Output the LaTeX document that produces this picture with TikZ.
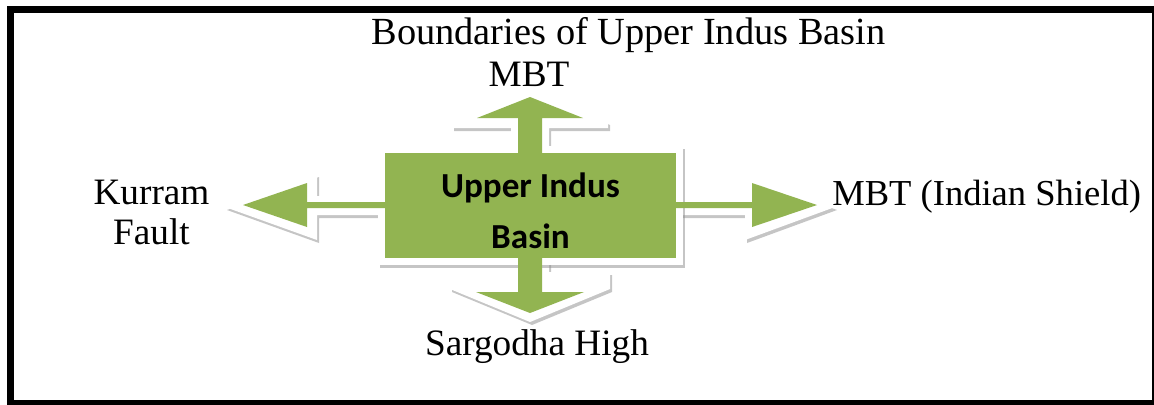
\documentclass[tikz,border=0pt]{standalone}
\usepackage{fontspec}
\setmainfont{Liberation Serif}
\newfontfamily\calibrifont{Carlito}
\usetikzlibrary{shadows}
\definecolor{indusgreen}{HTML}{92B451}

\begin{document}
\begin{tikzpicture}[x=0.025cm, y=-0.025cm,
    softshadow/.style={drop shadow={shadow xshift=0.05cm, shadow yshift=-0.075cm, fill=black!45, opacity=0.5}},
    plate/.style={fill=white, softshadow},
    blockarrow/.style={fill=indusgreen},
    lbl/.style={font=\fontsize{26.5}{28.5}\selectfont, inner sep=0pt}]
\useasboundingbox (0,0) rectangle (1154,404);
\clip (0,0) rectangle (1154,404);
\draw[line width=0.175cm] (10.5,9) rectangle (1155,403.5);

% white plates under the four arrows
\fill[plate] (511,153) -- (511,128) -- (452,128) -- (452,122) -- (530,89) -- (608,122) -- (608,128) -- (549,128) -- (549,153) -- cycle;
\fill[plate] (511,258) -- (511,272) -- (450,272) -- (450,289) -- (530,322) -- (610,289) -- (610,272) -- (549,272) -- (549,258) -- cycle;
\fill[plate] (385,196) -- (317,196) -- (317,174) -- (225,207) -- (317,240) -- (317,215) -- (385,215) -- cycle;
\fill[plate] (676,196) -- (745,196) -- (745,174) -- (835,207) -- (745,240) -- (745,215) -- (676,215) -- cycle;
% and under the centre block
\fill[plate] (378,146) rectangle (683,265);

% centre block
\node[fill=indusgreen, minimum width=7.275cm, minimum height=2.625cm, inner sep=0pt] (upb) at (530.5,205.5) {};

% green arrows
\fill[blockarrow] (518,160) -- (518,118) -- (477,118) -- (530,97) -- (583,118) -- (542,118) -- (542,160) -- cycle;
\fill[blockarrow] (518,250) -- (518,292) -- (476,292) -- (530,313) -- (584,292) -- (542,292) -- (542,250) -- cycle;
\fill[blockarrow] (392,202) -- (307,202) -- (307,183) -- (243,205) -- (307,227) -- (307,208) -- (392,208) -- cycle;
\fill[blockarrow] (670,202) -- (752,202) -- (752,183) -- (817,205) -- (752,227) -- (752,208) -- (670,208) -- cycle;

% block text, over the arrow shafts
\node[align=center, inner sep=0pt, font=\calibrifont\bfseries\fontsize{25}{36.5}\selectfont] (upbtext) at ([yshift=-0.14cm]upb.center) {Upper Indus\\Basin};

% labels
\node[lbl, font=\fontsize{27.3}{30}\selectfont, anchor=base] (title) at (628.5,44) {Boundaries of Upper Indus Basin};
\node[lbl, anchor=base] (mbt) at (529,86) {MBT};
\node[lbl, anchor=north, align=center] (kurram) at (151.5,180) {Kurram\\Fault};
\node[lbl, font=\fontsize{26}{28}\selectfont, anchor=base west] (shield) at (832,205) {MBT (Indian Shield)};
\node[lbl, anchor=base] (sargodha) at (537,355) {Sargodha High};
\end{tikzpicture}
\end{document}
